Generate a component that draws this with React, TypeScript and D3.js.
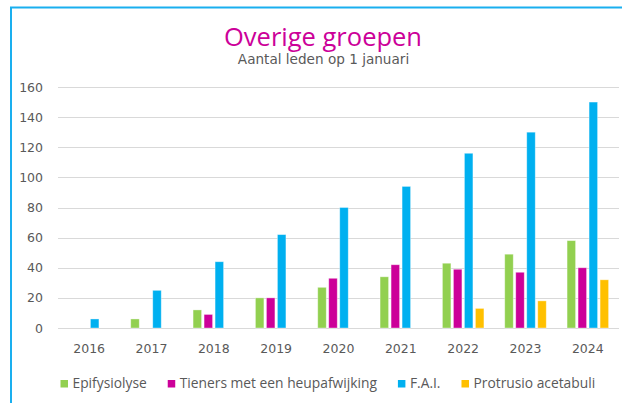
import React, { useEffect, useRef } from 'react';
import * as d3 from 'd3';

const years = ['2016', '2017', '2018', '2019', '2020', '2021', '2022', '2023', '2024'];
const seriesNames = ['Epifysiolyse', 'Tieners met een heupafwijking', 'F.A.I.', 'Protrusio acetabuli'];
const seriesColors = ['#92D050', '#CC0099', '#00B0F0', '#FFC000'];

const epifysiolyse = [0, 6, 12, 20, 27, 34, 43, 49, 58];
const tieners = [0, 0, 9, 20, 33, 42, 39, 37, 40];
const fai = [6, 25, 44, 62, 80, 94, 116, 130, 150];
const protrusio = [0, 0, 0, 0, 0, 0, 13, 18, 32];

const yTicks = [0, 20, 40, 60, 80, 100, 120, 140, 160];

const W = 622;
const H = 403;

const App = () => {
    const svgRef = useRef<SVGSVGElement>(null);

    useEffect(() => {
        const svg = d3.select(svgRef.current);
        svg.selectAll('*').remove();

        const values = [epifysiolyse, tieners, fai, protrusio];
        const plot = { left: 58, right: 619, top: 87, bottom: 328 };

        // frame (only top and left edge visible)
        svg.append('line')
            .attr('x1', 10).attr('x2', W).attr('y1', 7.5).attr('y2', 7.5)
            .attr('stroke', '#1AAFEF').attr('stroke-width', 2);
        svg.append('line')
            .attr('x1', 11).attr('x2', 11).attr('y1', 7).attr('y2', H)
            .attr('stroke', '#1AAFEF').attr('stroke-width', 2);

        // titles
        svg.append('text')
            .attr('x', 323).attr('y', 45.5)
            .attr('text-anchor', 'middle')
            .attr('font-family', '"Open Sans", sans-serif')
            .attr('font-size', 25.5)
            .attr('fill', '#CC0099')
            .text('Overige groepen');
        svg.append('text')
            .attr('x', 323.5).attr('y', 64)
            .attr('text-anchor', 'middle')
            .attr('font-family', '"DejaVu Sans", sans-serif')
            .attr('font-size', 13.6)
            .attr('fill', '#595959')
            .text('Aantal leden op 1 januari');

        const x0 = d3.scaleBand()
            .domain(years)
            .range([plot.left, plot.right])
            .paddingInner(0.334)
            .paddingOuter(0.167);

        const x1 = d3.scaleBand()
            .domain(seriesNames)
            .range([0, x0.bandwidth()])
            .paddingInner(0.227)
            .paddingOuter(0);

        const y = d3.scaleLinear()
            .domain([0, 160])
            .range([plot.bottom, plot.top]);

        // gridlines
        svg.append('g')
            .selectAll('line')
            .data(yTicks)
            .enter()
            .append('line')
            .attr('x1', plot.left).attr('x2', plot.right)
            .attr('y1', d => Math.round(y(d)) + 0.5)
            .attr('y2', d => Math.round(y(d)) + 0.5)
            .attr('stroke', '#D9D9D9')
            .attr('stroke-width', 1);

        // y tick labels
        svg.append('g')
            .selectAll('text')
            .data(yTicks)
            .enter()
            .append('text')
            .attr('x', 43)
            .attr('y', d => y(d))
            .attr('dy', '0.36em')
            .attr('text-anchor', 'end')
            .attr('font-family', '"DejaVu Sans", sans-serif')
            .attr('font-size', 12.5)
            .attr('fill', '#595959')
            .text(d => d);

        // x labels
        svg.append('g')
            .selectAll('text')
            .data(years)
            .enter()
            .append('text')
            .attr('x', d => (x0(d) as number) + x0.bandwidth() / 2)
            .attr('y', 353)
            .attr('text-anchor', 'middle')
            .attr('font-family', '"DejaVu Sans", sans-serif')
            .attr('font-size', 12.5)
            .attr('fill', '#595959')
            .text(d => d);

        // bars
        const groups = svg.append('g')
            .selectAll('g')
            .data(years)
            .enter()
            .append('g')
            .attr('transform', d => `translate(${x0(d)},0)`);

        groups.selectAll('rect')
            .data((d, i) => seriesNames.map((s, si) => ({ s, si, v: values[si][i] })))
            .enter()
            .filter(d => d.v > 0)
            .append('rect')
            .attr('x', d => x1(d.s) as number)
            .attr('y', d => y(d.v))
            .attr('width', x1.bandwidth())
            .attr('height', d => y(0) - y(d.v))
            .attr('fill', d => seriesColors[d.si])
            .attr('stroke', 'rgba(255,255,255,0.45)')
            .attr('stroke-width', 0.8);

        // legend
        const legend = svg.append('g');
        let lx = 60.5;
        seriesNames.forEach((name, i) => {
            legend.append('rect')
                .attr('x', lx).attr('y', 380)
                .attr('width', 7.5).attr('height', 7.5)
                .attr('fill', seriesColors[i]);
            const t = legend.append('text')
                .attr('x', lx + 12).attr('y', 388)
                .attr('font-family', '"Open Sans", sans-serif')
                .attr('font-size', 13.8)
                .attr('fill', '#595959')
                .text(name);
            const len = (t.node() as SVGTextElement).getComputedTextLength();
            lx = lx + 12 + len + 21;
        });
    }, []);

    return (
        <svg ref={svgRef} width={W} height={H}
            style={{ position: 'absolute', left: 0, top: 0, background: '#fff' }} />
    );
};

export default App;
